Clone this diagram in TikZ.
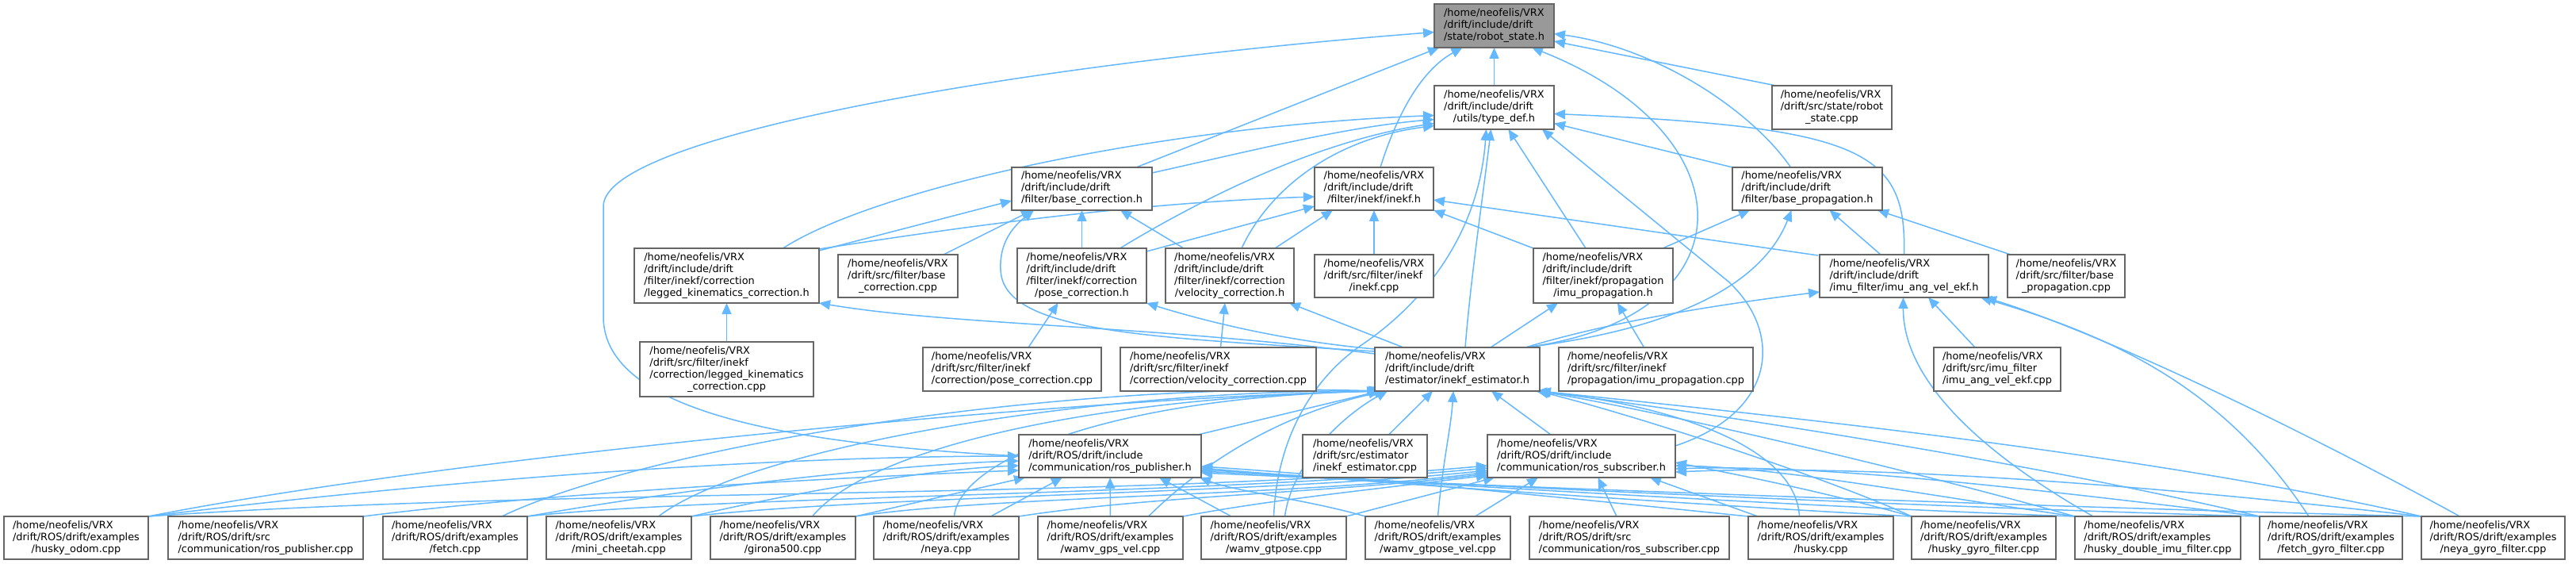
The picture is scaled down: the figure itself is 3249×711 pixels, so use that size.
\documentclass[tikz,border=0pt]{standalone}
\usepackage{fontspec}
\setmainfont{DejaVu Sans}
\usetikzlibrary{arrows.meta,calc,fit}
\definecolor{edgec}{HTML}{63B8FF}
\definecolor{bordc}{HTML}{666666}
\definecolor{focc}{HTML}{999999}
\pgfdeclarelayer{bg}
\pgfsetlayers{bg,main}
\newcommand{\lastl}[1]{\multicolumn{1}{@{}c@{}}{#1}}
\tikzset{
  box/.style={draw=bordc, line width=1pt, inner sep=0pt, outer sep=0pt},
  lbl/.style={inner sep=0pt, font=\fontsize{6.45}{7.5}\selectfont},
  dep/.style={draw=edgec, line width=0.75pt, -{Triangle[length=7pt,width=6pt]}}
}
\newcommand{\mkbox}[7][white]{%
  \node[box, fill=#1, fit={(#3,#4) (#5,#6)}] (#2) {};
  \node[lbl] (#2-t) at (#2.center) {\begin{tabular}{@{}l@{}}#7\end{tabular}};}
\newcommand{\exbox}[4]{\mkbox{#1}{#2}{651}{#3}{705}{/home/neofelis/VRX\\/drift/ROS/drift/examples\\\lastl{#4}}}
\begin{document}
\begin{tikzpicture}[x=0.5pt,y=-0.5pt]
\useasboundingbox (0,0) rectangle (3249,711);
% ---------- nodes
\mkbox[focc]{rs}{1809}{5}{1960}{60}{/home/neofelis/VRX\\/drift/include/drift\\\lastl{/state/robot\_state.h}}
\mkbox{td}{1809}{108}{1960}{163}{/home/neofelis/VRX\\/drift/include/drift\\\lastl{/utils/type\_def.h}}
\mkbox{rscpp}{2235}{108}{2386}{163}{/home/neofelis/VRX\\/drift/src/state/robot\\\lastl{\_state.cpp}}
\mkbox{bc}{1276}{211}{1453}{265}{/home/neofelis/VRX\\/drift/include/drift\\\lastl{/filter/base\_correction.h}}
\mkbox{ih}{1658}{211}{1808}{265}{/home/neofelis/VRX\\/drift/include/drift\\\lastl{/filter/inekf/inekf.h}}
\mkbox{bp}{2185}{211}{2374}{265}{/home/neofelis/VRX\\/drift/include/drift\\\lastl{/filter/base\_propagation.h}}
\mkbox{lk}{800}{313}{1033}{382}{/home/neofelis/VRX\\/drift/include/drift\\/filter/inekf/correction\\\lastl{/legged\_kinematics\_correction.h}}
\mkbox{bccpp}{1057}{321}{1208}{375}{/home/neofelis/VRX\\/drift/src/filter/base\\\lastl{\_correction.cpp}}
\mkbox{pc}{1283}{313}{1446}{382}{/home/neofelis/VRX\\/drift/include/drift\\/filter/inekf/correction\\\lastl{/pose\_correction.h}}
\mkbox{vc}{1470}{313}{1632}{382}{/home/neofelis/VRX\\/drift/include/drift\\/filter/inekf/correction\\\lastl{/velocity\_correction.h}}
\mkbox{icpp}{1658}{321}{1808}{375}{/home/neofelis/VRX\\/drift/src/filter/inekf\\\lastl{/inekf.cpp}}
\mkbox{ip}{1934}{313}{2110}{382}{/home/neofelis/VRX\\/drift/include/drift\\/filter/inekf/propagation\\\lastl{/imu\_propagation.h}}
\mkbox{ia}{2295}{321}{2508}{375}{/home/neofelis/VRX\\/drift/include/drift\\\lastl{/imu\_filter/imu\_ang\_vel\_ekf.h}}
\mkbox{bpcpp}{2532}{321}{2680}{375}{/home/neofelis/VRX\\/drift/src/filter/base\\\lastl{\_propagation.cpp}}
\mkbox{lkcpp}{807}{431}{1026}{500}{/home/neofelis/VRX\\/drift/src/filter/inekf\\/correction/legged\_kinematics\\\lastl{\_correction.cpp}}
\mkbox{pccpp}{1164}{438}{1389}{493}{/home/neofelis/VRX\\/drift/src/filter/inekf\\\lastl{/correction/pose\_correction.cpp}}
\mkbox{vccpp}{1413}{438}{1660}{493}{/home/neofelis/VRX\\/drift/src/filter/inekf\\\lastl{/correction/velocity\_correction.cpp}}
\mkbox{ie}{1734}{438}{1942}{493}{/home/neofelis/VRX\\/drift/include/drift\\\lastl{/estimator/inekf\_estimator.h}}
\mkbox{ipcpp}{1966}{438}{2211}{493}{/home/neofelis/VRX\\/drift/src/filter/inekf\\\lastl{/propagation/imu\_propagation.cpp}}
\mkbox{iacpp}{2439}{438}{2599}{493}{/home/neofelis/VRX\\/drift/src/imu\_filter\\\lastl{/imu\_ang\_vel\_ekf.cpp}}
\mkbox{pub}{1285}{548}{1515}{602}{/home/neofelis/VRX\\/drift/ROS/drift/include\\\lastl{/communication/ros\_publisher.h}}
\mkbox{iecpp}{1643}{548}{1800}{602}{/home/neofelis/VRX\\/drift/src/estimator\\\lastl{/inekf\_estimator.cpp}}
\mkbox{sub}{1876}{548}{2113}{602}{/home/neofelis/VRX\\/drift/ROS/drift/include\\\lastl{/communication/ros\_subscriber.h}}
\exbox{ho}{5}{187}{/husky\_odom.cpp}
\mkbox{pcp}{212}{651}{458}{705}{/home/neofelis/VRX\\/drift/ROS/drift/src\\\lastl{/communication/ros\_publisher.cpp}}
\exbox{fe}{483}{665}{/fetch.cpp}
\exbox{mc}{689}{872}{/mini\_cheetah.cpp}
\exbox{gi}{896}{1079}{/girona500.cpp}
\exbox{ne}{1102}{1285}{/neya.cpp}
\exbox{wgv}{1309}{1492}{/wamv\_gps\_vel.cpp}
\exbox{wg}{1515}{1698}{/wamv\_gtpose.cpp}
\exbox{wgp}{1722}{1905}{/wamv\_gtpose\_vel.cpp}
\mkbox{scp}{1929}{651}{2181}{705}{/home/neofelis/VRX\\/drift/ROS/drift/src\\\lastl{/communication/ros\_subscriber.cpp}}
\exbox{hu}{2205}{2388}{/husky.cpp}
\exbox{hg}{2411}{2593}{/husky\_gyro\_filter.cpp}
\exbox{hd}{2617}{2826}{/husky\_double\_imu\_filter.cpp}
\exbox{fg}{2850}{3030}{/fetch\_gyro\_filter.cpp}
\exbox{ng}{3054}{3235}{/neya\_gyro\_filter.cpp}
% ---------- edges
\begin{pgfonlayer}{bg}
\fill[white] (0,0) rectangle (3249,711);
% into robot_state.h
\draw[dep] (td) -- (rs);
\draw[dep] ($(bc.north east)+(-20,0)$) -- ($(rs.south west)+(6,0)$);
\draw[dep] ($(ih.north)+(8,0)$) .. controls (1760,150) and (1790,90) .. ($(rs.south)+(-40,0)$);
\draw[dep] ($(ie.north east)+(-18,0)$) .. controls (2210,400) and (2210,170) .. ($(rs.south east)+(-28,0)$);
\draw[dep] ($(rscpp.north west)+(5,0)$) -- ($(rs.south east)+(0,-8)$);
\draw[dep] ($(bp.north)+(-21,0)$) .. controls (2210,140) and (2090,60) .. ($(rs.east)+(0,10)$);
\draw[dep] (pub.west) .. controls (1000,560) and (762,520) .. (761,400) -- (761,260) .. controls (761,170) and (1300,80) .. ($(rs.west)+(0,8)$);
% into type_def.h
\draw[dep] ($(lk.north)+(71,0)$) .. controls (1100,240) and (1450,160) .. ($(td.west)+(0,10)$);
\draw[dep] ($(bc.north east)+(0,7)$) .. controls (1600,185) and (1700,160) .. ($(td.west)+(0,15)$);
\draw[dep] ($(pc.north)+(48,0)$) .. controls (1500,260) and (1650,180) .. ($(td.west)+(0,20)$);
\draw[dep] ($(vc.north)+(15,0)$) .. controls (1600,240) and (1680,175) .. ($(td.west)+(0,23)$);
\draw[dep] (bp.north west) -- ($(td.east)+(0,20)$);
\draw[dep] (ia.north) .. controls (2405,190) and (2350,160) .. ($(td.east)+(0,8)$);
\draw[dep] ($(ip.north)+(-22,0)$) -- ($(td.south)+(18,0)$);
\draw[dep] ($(ie.north)+(10,0)$) .. controls (1855,350) and (1870,250) .. ($(td.south)+(-4,0)$);
\draw[dep] (wg.north) .. controls (1610,560) and (1650,480) .. (1720,433) .. controls (1790,385) and (1865,300) .. ($(td.south)+(-10,0)$);
\draw[dep] ($(sub.east)+(0,-13)$) .. controls (2240,520) and (2250,420) .. (2180,355) -- ($(td.south east)+(-15,0)$);
% into base_correction.h
\draw[dep] ($(lk.north east)+(0,3)$) -- ($(bc.west)+(0,15)$);
\draw[dep] ($(bccpp.north east)+(-18,0)$) -- ($(bc.south west)+(26,0)$);
\draw[dep] (pc) -- (bc);
\draw[dep] ($(vc.north west)+(23,0)$) -- ($(bc.south east)+(-40,0)$);
\draw[dep] ($(ie.north west)+(0,5)$) .. controls (1450,425) and (1265,420) .. (1262,340) .. controls (1260,300) and (1285,280) .. ($(bc.south west)+(28,0)$);
% into inekf.h
\draw[dep] ($(lk.north east)+(0,1)$) .. controls (1250,280) and (1450,255) .. ($(ih.west)+(0,10)$);
\draw[dep] ($(pc.north east)+(0,4)$) -- ($(ih.west)+(0,22)$);
\draw[dep] ($(vc.north east)+(-24,0)$) -- ($(ih.south west)+(23,0)$);
\draw[dep] (icpp) -- (ih);
\draw[dep] (ip.north west) -- (ih.south east);
\draw[dep] ($(ia.north west)+(-2,1)$) -- ($(ih.east)+(0,14)$);
% into base_propagation.h
\draw[dep] ($(ip.north east)+(-13,0)$) -- ($(bp.south west)+(22,0)$);
\draw[dep] ($(ia.north west)+(77,0)$) -- ($(bp.south)+(28,0)$);
\draw[dep] ($(bpcpp.north west)+(4,0)$) -- ($(bp.south east)+(-6,0)$);
\draw[dep] ($(ie.north east)+(-18,0)$) .. controls (2150,410) and (2230,340) .. ($(bp.south)+(-20,0)$);
% into imu_ang_vel_ekf.h
\draw[dep] ($(ie.north east)+(-18,0)$) .. controls (2050,400) and (2200,380) .. ($(ia.west)+(0,20)$);
\draw[dep] ($(iacpp.north west)+(52,0)$) -- ($(ia.south west)+(137,0)$);
\draw[dep] ($(hd.north west)+(23,0)$) .. controls (2480,560) and (2400,470) .. ($(ia.south)+(-1,0)$);
\draw[dep] ($(fg.north)+(-28,0)$) .. controls (2800,480) and (2650,420) .. ($(ia.south east)+(-10,0)$);
\draw[dep] ($(ng.north)+(-42,0)$) .. controls (2900,540) and (2650,420) .. ($(ia.south east)+(-4,0)$);
% into imu_propagation.h
\draw[dep] ($(ie.north)+(42,0)$) -- ($(ip.south west)+(31,0)$);
\draw[dep] ($(ipcpp.north)+(-15,0)$) -- ($(ip.south)+(18,0)$);
% into velocity / pose / legged corrections
\draw[dep] ($(ie.north west)+(36,0)$) -- ($(vc.south east)+(-6,0)$);
\draw[dep] ($(vccpp.north)+(3,0)$) -- ($(vc.south)+(-6,0)$);
\draw[dep] ($(ie.north west)+(0,2)$) .. controls (1620,430) and (1520,405) .. (pc.south east);
\draw[dep] ($(pccpp.north west)+(133,0)$) -- ($(pc.south)+(-30,0)$);
\draw[dep] ($(ie.north west)+(0,8)$) .. controls (1450,410) and (1200,410) .. (lk.south east);
\draw[dep] (lkcpp) -- (lk);
% into inekf_estimator.h
\draw[dep] ($(pub.north east)+(-4,0)$) -- ($(ie.south west)+(6,0)$);
\draw[dep] ($(sub.north west)+(80,0)$) -- ($(ie.south)+(43,0)$);
\draw[dep] ($(iecpp.north)+(30,0)$) -- ($(ie.south)+(-31,0)$);
\draw[dep] ($(scp.north)+(-16,0)$) -- ($(sub.south)+(21,0)$);
\draw[dep] (pcp.north east) .. controls (700,620) and (1100,600) .. ($(pub.west)+(0,18)$);
% examples, left part
\draw[dep] (ho.north east) .. controls (600,570) and (1400,500) .. ($(ie.south west)+(4,0)$);
\draw[dep] (ho.north east) .. controls (600,600) and (1000,575) .. (pub.west);
\draw[dep] (ho.north east) .. controls (700,615) and (1400,630) .. ($(sub.west)+(0,12)$);
\draw[dep] ($(fe.north)+(59,0)$) .. controls (800,570) and (1300,480) .. ($(ie.south west)+(6,0)$);
\draw[dep] (fe.north east) .. controls (900,610) and (1150,585) .. ($(pub.west)+(0,6)$);
\draw[dep] (fe.north east) .. controls (900,625) and (1500,625) .. ($(sub.west)+(0,15)$);
\draw[dep] ($(mc.north)+(50,0)$) .. controls (950,560) and (1400,490) .. ($(ie.south west)+(8,0)$);
\draw[dep] (mc.north east) .. controls (1050,610) and (1200,590) .. ($(pub.west)+(0,12)$);
\draw[dep] (mc.north east) .. controls (1100,625) and (1600,622) .. ($(sub.west)+(0,18)$);
\draw[dep] ($(gi.north)+(37,0)$) .. controls (1100,560) and (1400,500) .. ($(ie.south west)+(10,0)$);
\draw[dep] (gi.north east) -- ($(pub.south west)+(8,0)$);
\draw[dep] (gi.north east) .. controls (1250,625) and (1650,625) .. ($(sub.west)+(0,20)$);
\draw[dep] ($(ne.north)+(10,0)$) .. controls (1210,580) and (1400,500) .. ($(ie.south west)+(12,0)$);
\draw[dep] ($(ne.north)+(56,0)$) -- ($(pub.south west)+(55,0)$);
\draw[dep] (ne.north east) .. controls (1450,625) and (1700,620) .. ($(sub.west)+(0,22)$);
\draw[dep] (wgv) -- (pub);
\draw[dep] ($(wgv.north)+(48,0)$) .. controls (1520,580) and (1620,520) .. ($(ie.south west)+(14,0)$);
\draw[dep] (wgv.north east) .. controls (1600,630) and (1750,615) .. ($(sub.west)+(0,24)$);
\draw[dep] ($(wg.north west)+(38,0)$) -- ($(pub.south east)+(-53,0)$);
\draw[dep] ($(wg.north)+(14,0)$) .. controls (1630,580) and (1700,520) .. ($(ie.south west)+(16,0)$);
\draw[dep] (wg.north east) -- ($(sub.south west)+(9,0)$);
\draw[dep] (wgp.north) .. controls (1820,580) and (1830,540) .. ($(ie.south)+(-5,0)$);
\draw[dep] (wgp.north west) .. controls (1650,630) and (1560,620) .. ($(pub.south east)+(-2,0)$);
\draw[dep] ($(wgp.north)+(47,0)$) -- ($(sub.south west)+(64,0)$);
% examples, right part
\draw[dep] ($(hu.north)+(-27,0)$) .. controls (2265,560) and (2100,510) .. ($(ie.south east)+(-5,0)$);
\draw[dep] ($(hu.north west)+(12,0)$) -- ($(sub.south east)+(-32,0)$);
\draw[dep] (hu.north west) .. controls (2000,630) and (1700,600) .. ($(pub.east)+(0,13)$);
\draw[dep] (hg.north west) .. controls (2300,600) and (2050,520) .. ($(ie.south east)+(-3,0)$);
\draw[dep] (hg.north west) .. controls (2300,620) and (2200,600) .. ($(sub.east)+(0,8)$);
\draw[dep] (hg.north west) .. controls (2200,640) and (1750,610) .. ($(pub.east)+(0,15)$);
\draw[dep] (hd.north west) .. controls (2400,590) and (2100,520) .. ($(ie.south east)+(-2,0)$);
\draw[dep] (hd.north west) .. controls (2400,620) and (2250,590) .. ($(sub.east)+(0,12)$);
\draw[dep] (hd.north west) .. controls (2300,640) and (1800,610) .. ($(pub.east)+(0,17)$);
\draw[dep] (fg.north west) .. controls (2550,580) and (2150,520) .. ($(ie.south east)+(-1,0)$);
\draw[dep] (fg.north west) .. controls (2550,615) and (2300,585) .. ($(sub.east)+(0,16)$);
\draw[dep] (fg.north west) .. controls (2450,640) and (1850,612) .. ($(pub.east)+(0,19)$);
\draw[dep] (ng.north west) .. controls (2700,570) and (2200,520) .. (ie.south east);
\draw[dep] (ng.north west) .. controls (2700,610) and (2350,585) .. ($(sub.east)+(0,20)$);
\draw[dep] (ng.north west) .. controls (2600,640) and (1900,614) .. ($(pub.east)+(0,21)$);
\end{pgfonlayer}
\end{tikzpicture}
\end{document}
